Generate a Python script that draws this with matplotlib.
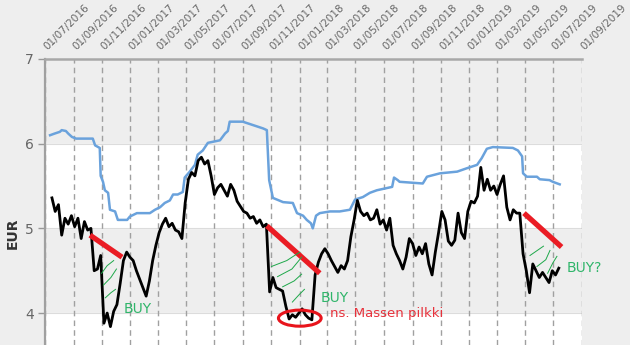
import matplotlib
matplotlib.use('Agg')
import matplotlib.pyplot as plt
import matplotlib.dates as mdates
import matplotlib.transforms as mtransforms
from matplotlib.patches import Ellipse
import pandas as pd

# price (weekly)
price_start = '2016-07-16'
price = [5.36, 5.20, 5.28, 4.92, 5.12, 5.05, 5.15, 5.02, 5.12, 4.88,
         5.08, 4.98, 5.00, 4.50, 4.52, 4.68, 3.88, 4.00, 3.84, 4.02,
         4.10, 4.35, 4.62, 4.72, 4.66, 4.62, 4.50, 4.40, 4.30, 4.20,
         4.38, 4.62, 4.80, 4.95, 5.05, 5.12, 5.02, 5.06, 4.98, 4.96,
         4.88, 5.30, 5.58, 5.66, 5.62, 5.80, 5.84, 5.76, 5.80, 5.62,
         5.40, 5.48, 5.52, 5.45, 5.38, 5.52, 5.45, 5.32, 5.26, 5.20,
         5.18, 5.12, 5.14, 5.06, 5.10, 5.02, 5.05, 4.25, 4.42, 4.30,
         4.28, 4.26, 4.08, 3.93, 3.98, 3.95, 4.00, 4.05, 3.98, 3.94,
         3.92, 4.45, 4.60, 4.70, 4.76, 4.70, 4.62, 4.55, 4.48, 4.56,
         4.52, 4.62, 4.90, 5.10, 5.33, 5.20, 5.15, 5.18, 5.10, 5.12,
         5.22, 5.05, 5.10, 4.98, 5.12, 4.80, 4.70, 4.62, 4.52, 4.66,
         4.88, 4.82, 4.68, 4.78, 4.70, 4.82, 4.58, 4.45, 4.72, 4.95,
         5.20, 5.10, 4.85, 4.80, 4.86, 5.18, 4.95, 4.88, 5.20, 5.32,
         5.30, 5.38, 5.72, 5.45, 5.58, 5.45, 5.50, 5.40, 5.52, 5.62,
         5.25, 5.10, 5.22, 5.18, 5.18, 4.70, 4.50, 4.24, 4.58, 4.50,
         4.42, 4.48, 4.42, 4.36, 4.50, 4.45, 4.53]

# blue reference line
ref_dates = ['2016-07-12', '2016-07-22', '2016-08-02', '2016-08-06', '2016-08-15',
             '2016-08-20', '2016-08-28', '2016-09-06', '2016-10-12', '2016-10-17',
             '2016-10-27', '2016-10-29', '2016-11-03', '2016-11-07', '2016-11-14',
             '2016-11-18', '2016-11-29', '2016-12-05', '2016-12-25', '2016-12-31',
             '2017-01-15', '2017-02-12', '2017-02-23', '2017-03-06', '2017-03-16',
             '2017-03-27', '2017-04-03', '2017-04-13', '2017-04-24', '2017-04-28',
             '2017-05-09', '2017-05-20', '2017-05-26', '2017-06-06', '2017-06-17',
             '2017-07-13', '2017-07-24', '2017-07-30', '2017-08-03', '2017-08-31',
             '2017-09-11', '2017-09-22', '2017-10-03', '2017-10-14', '2017-10-22',
             '2017-10-27', '2017-11-04', '2017-11-26', '2017-12-17', '2017-12-26',
             '2018-01-08', '2018-01-16', '2018-01-25', '2018-01-29', '2018-02-05',
             '2018-02-13', '2018-03-07', '2018-03-28', '2018-04-19', '2018-04-30',
             '2018-05-17', '2018-06-01', '2018-06-16', '2018-07-19', '2018-07-23',
             '2018-07-31', '2018-08-04', '2018-09-23', '2018-10-02', '2018-10-30',
             '2018-12-06', '2018-12-27', '2019-01-18', '2019-01-28', '2019-02-08',
             '2019-02-21', '2019-04-05', '2019-04-16', '2019-04-25', '2019-04-27',
             '2019-05-05', '2019-05-27', '2019-06-02', '2019-06-23', '2019-06-30',
             '2019-07-15']
ref_vals = [6.10, 6.12, 6.14, 6.16, 6.15, 6.12, 6.08, 6.06, 6.06, 5.98,
            5.95, 5.62, 5.55, 5.45, 5.42, 5.22, 5.20, 5.10, 5.10, 5.14,
            5.18, 5.18, 5.22, 5.25, 5.30, 5.33, 5.40, 5.40, 5.43, 5.60,
            5.67, 5.75, 5.87, 5.92, 6.01, 6.04, 6.12, 6.15, 6.26, 6.26,
            6.24, 6.22, 6.20, 6.18, 6.16, 5.57, 5.36, 5.31, 5.30, 5.18,
            5.15, 5.10, 5.06, 5.00, 5.15, 5.18, 5.20, 5.20, 5.22, 5.34,
            5.37, 5.42, 5.45, 5.49, 5.60, 5.57, 5.55, 5.53, 5.61, 5.65,
            5.67, 5.71, 5.75, 5.83, 5.94, 5.96, 5.95, 5.92, 5.85, 5.65,
            5.61, 5.61, 5.58, 5.57, 5.55, 5.52]

# hand-drawn annotations
red_lines = [(('2016-10-06', 4.92), ('2016-12-14', 4.66)),
             (('2017-10-22', 5.03), ('2018-02-13', 4.47)),
             (('2019-04-29', 5.18), ('2019-07-19', 4.78))]
green_strokes = [[('2016-10-31', 4.47), ('2016-11-12', 4.56), ('2016-11-26', 4.62)],
                 [('2016-11-04', 4.33), ('2016-11-20', 4.42), ('2016-12-02', 4.52)],
                 [('2016-11-08', 4.18), ('2016-11-20', 4.24), ('2016-11-30', 4.28)],
                 [('2017-11-01', 4.55), ('2017-12-04', 4.62), ('2018-01-01', 4.72)],
                 [('2017-11-14', 4.43), ('2017-12-15', 4.52), ('2018-01-05', 4.66)],
                 [('2017-11-25', 4.31), ('2017-12-20', 4.38), ('2018-01-05', 4.46)],
                 [('2017-12-16', 4.13), ('2017-12-31', 4.22), ('2018-01-11', 4.28)],
                 [('2019-05-12', 4.68), ('2019-06-10', 4.79)],
                 [('2019-05-27', 4.55), ('2019-06-15', 4.63), ('2019-06-24', 4.74)],
                 [('2019-06-19', 4.47), ('2019-06-30', 4.59), ('2019-07-09', 4.67)]]
notes = [('BUY', '2016-12-18', 4.05, '#2fb56a', 10),
         ('BUY', '2018-02-15', 4.18, '#2fb56a', 10),
         ('BUY?', '2019-07-30', 4.53, '#2fb56a', 10),
         ('ns. Massen pilkki', '2018-03-08', 4.00, '#e8323c', 9.5)]

tick_dates = pd.date_range('2016-07-01', '2019-09-01', freq='2MS')

bg = '#eeeeee'
fig = plt.figure(figsize=(6.3, 3.45), dpi=100, facecolor=bg)
ax = fig.add_axes([0.0714, 0.0, 0.8524, 0.829])
ax.set_facecolor(bg)

ax.axhspan(5, 6, color='white', zorder=0)
ax.axhspan(3.0, 4, color='white', zorder=0)
for yv in [4, 5, 6]:
    ax.axhline(yv, color='#dcdcdc', lw=0.8, zorder=0.5)
for d in tick_dates:
    ax.axvline(d, color='#a0a0a0', lw=1, ls=(0, (4, 3)), zorder=1)

ax.plot(pd.to_datetime(ref_dates), ref_vals, color='#6aa2dc', lw=1.8, zorder=3)
pdates = pd.date_range(price_start, periods=len(price), freq='7D')
ax.plot(pdates, price, color='black', lw=2, zorder=4)

for (d0, v0), (d1, v1) in red_lines:
    ax.plot(pd.to_datetime([d0, d1]), [v0, v1], color='#ea1c24', lw=3.8,
            solid_capstyle='butt', zorder=5)
for s in green_strokes:
    ax.plot(pd.to_datetime([p[0] for p in s]), [p[1] for p in s],
            color='#1ea84a', lw=0.7, zorder=5)
for txt, d, v, c, fs in notes:
    ax.text(pd.Timestamp(d), v, txt, color=c, fontsize=fs, va='center', ha='left', zorder=6)

ell = Ellipse((mdates.date2num(pd.Timestamp('2018-01-01')), 3.94), width=92, height=0.19,
              fill=False, edgecolor='#e8141c', lw=2.2, zorder=6)
ax.add_patch(ell)

ax.set_xlim(pd.Timestamp('2016-07-01'), pd.Timestamp('2019-09-01'))
ax.set_ylim(3.623, 7)
ax.set_yticks([4, 5, 6, 7])
ax.tick_params(axis='y', length=5, width=1, color='#999999', labelcolor='#666666',
               labelsize=10, pad=3)

ax.xaxis.tick_top()
ax.set_xticks(tick_dates)
ax.set_xticklabels([d.strftime('%d/%m/%Y') for d in tick_dates], rotation=45,
                   ha='left', va='bottom', rotation_mode='anchor', color='#666666',
                   fontsize=7.5)
ax.tick_params(axis='x', length=0, pad=5)
shift = mtransforms.ScaledTranslation(4 / 100, 0, fig.dpi_scale_trans)
for lab in ax.get_xticklabels():
    lab.set_transform(lab.get_transform() + shift)

for side in ['right', 'bottom']:
    ax.spines[side].set_visible(False)
ax.spines['left'].set_color('#a0a0a0')
ax.spines['left'].set_linewidth(1.6)
ax.spines['top'].set_color('#a8a8a8')
ax.spines['top'].set_linewidth(1.8)

fig.text(0.02, 1 - 233 / 345, 'EUR', rotation=90, fontsize=10, fontweight='bold',
         color='#333333', ha='center', va='center')

fig.savefig('out.png', dpi=100, facecolor=bg)
